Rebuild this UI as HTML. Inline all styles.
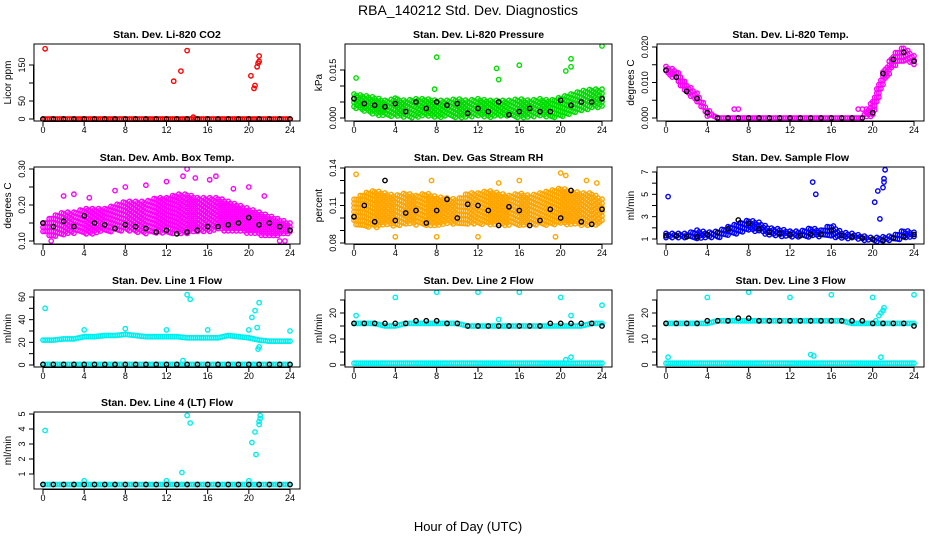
<!DOCTYPE html>
<html><head><meta charset="utf-8">
<style>
html,body{margin:0;padding:0;background:#fff;}
svg{display:block;font-family:"Liberation Sans",Arial,sans-serif;}
</style></head>
<body>
<svg id="chart" width="936" height="540" viewBox="0 0 936 540" xmlns="http://www.w3.org/2000/svg">
<text x="468" y="15" font-size="14" text-anchor="middle">RBA_140212  Std. Dev. Diagnostics</text>
<text x="468" y="531" font-size="13" text-anchor="middle">Hour of Day (UTC)</text>
</svg>
<script>
// ---- data (hourly samples 0..24) ----
const hourTicks = [0,4,8,12,16,20,24];
const hours = [0,1,2,3,4,5,6,7,8,9,10,11,12,13,14,15,16,17,18,19,20,21,22,23,24];

const co2Lo = [0,0,0,0,0,0,0,0,0,0,0,0,0,0,0,0,0,0,0,0,0,0,0,0,0];
const co2Hi = [0,0,0,0,0,0,0,0,0,0,0,0,0,0,0,0,0,0,0,0,0,0,0,0,0];
const co2Black = [0,0,0,0,0,0,0,0,0,0,0,0,0,0,0,0,0,0,0,0,0,0,0,0,0];
const co2OutX = [0.2,12.7,13.4,14.0,14.6,20.2,20.5,20.6,20.8,20.9,21.0,21.0];
const co2OutY = [195,105,133,190,5,120,85,93,145,155,160,175];

const presLo = [0.003,0.002,0.001,0.0005,0.0005,0,0,0.0005,0,0.0005,0,0,0.0005,0,0.0005,0.0005,0,0,0.0005,0,0,0.001,0.002,0.003,0.003];
const presHi = [0.0075,0.007,0.0065,0.0055,0.006,0.0055,0.006,0.006,0.0055,0.0055,0.006,0.0055,0.006,0.0055,0.0055,0.0055,0.006,0.0055,0.006,0.0055,0.0065,0.0075,0.0085,0.009,0.009];
const presBlack = [0.006,0.0045,0.004,0.0035,0.0045,0.002,0.005,0.003,0.005,0.004,0.0045,0.0015,0.003,0.002,0.005,0.001,0.002,0.003,0.002,0.002,0.0055,0.004,0.005,0.005,0.006];
const presOutX = [0.2,8,7.8,13.8,14,16,4,20.5,21,21,24];
const presOutY = [0.0125,0.019,0.009,0.0155,0.012,0.0165,0.0062,0.0147,0.016,0.0185,0.0225];

const tempLo = [0.013,0.0105,0.007,0.0045,0.0005,0,0,0,0,0,0,0,0,0,0,0,0,0,0,0,0.0005,0.009,0.0145,0.016,0.015];
const tempHi = [0.0145,0.0135,0.0095,0.007,0.0025,0,0,0,0,0,0,0,0,0,0,0,0,0,0,0,0.005,0.013,0.018,0.02,0.0175];
const tempBlack = [0.0135,0.0115,0.0075,0.0055,0.0015,0,0,0,0,0,0,0,0,0,0,0,0,0,0,0,0.0015,0.0125,0.0165,0.0185,0.016];
const tempOutX = [6.6,7.0,18.6,19.0,19.4];
const tempOutY = [0.0025,0.0025,0.0025,0.0025,0.0025];

const ambLo = [0.12,0.11,0.115,0.12,0.12,0.12,0.125,0.125,0.13,0.125,0.12,0.12,0.12,0.12,0.12,0.125,0.125,0.13,0.125,0.125,0.12,0.115,0.115,0.115,0.12];
const ambHi = [0.15,0.17,0.18,0.18,0.19,0.19,0.19,0.2,0.21,0.21,0.21,0.22,0.22,0.23,0.23,0.22,0.22,0.22,0.21,0.2,0.19,0.18,0.17,0.16,0.15];
const ambBlack = [0.15,0.14,0.155,0.14,0.17,0.15,0.145,0.135,0.145,0.14,0.135,0.125,0.13,0.12,0.125,0.13,0.14,0.14,0.145,0.15,0.165,0.145,0.15,0.14,0.13];
const ambOutX = [2,3,4.5,7,8,10,12,14,14.8,13.6,16.2,16.8,18.5,20,21.5,23,23.5,0.8];
const ambOutY = [0.225,0.23,0.22,0.24,0.25,0.255,0.265,0.3,0.275,0.28,0.27,0.28,0.245,0.25,0.225,0.1,0.1,0.1];

const rhLo = [0.095,0.093,0.092,0.094,0.093,0.095,0.094,0.093,0.094,0.095,0.094,0.095,0.095,0.094,0.094,0.094,0.093,0.095,0.094,0.094,0.095,0.094,0.094,0.093,0.095];
const rhHi = [0.115,0.12,0.122,0.12,0.118,0.12,0.118,0.12,0.117,0.116,0.115,0.12,0.12,0.122,0.12,0.118,0.12,0.118,0.12,0.122,0.124,0.122,0.12,0.12,0.115];
const rhBlack = [0.101,0.11,0.097,0.13,0.098,0.104,0.106,0.096,0.106,0.115,0.1,0.111,0.11,0.106,0.094,0.109,0.106,0.094,0.098,0.107,0.1,0.122,0.097,0.095,0.107];
const rhOutX = [0.2,4,8,12,7.5,20,20.5,14,16,22.5,23.5,19.5];
const rhOutY = [0.135,0.085,0.085,0.085,0.13,0.136,0.134,0.128,0.13,0.13,0.128,0.085];

const flowLo = [1.1,1.0,1.0,1.0,1.0,1.1,1.3,1.5,1.7,1.6,1.3,1.2,1.2,1.1,1.2,1.2,1.1,1.0,1.0,0.9,0.8,0.7,0.9,1.0,1.1];
const flowHi = [1.5,1.5,1.5,1.8,1.6,1.7,2.1,2.4,2.7,2.5,2.0,1.9,1.7,1.7,2.0,1.8,2.3,1.6,1.5,1.3,1.1,1.2,1.3,1.8,1.6];
const flowBlack = [1.3,1.3,1.2,1.2,1.4,1.6,1.9,2.7,2.4,1.9,1.6,1.5,1.4,1.3,1.4,1.4,1.8,1.3,1.2,1.1,1.0,0.9,1.1,1.2,1.4];
const flowOutX = [0.2,14.2,14.5,20.2,20.5,20.7,21,21.1,21.1,21.2];
const flowOutY = [4.8,6.1,5,4.3,5.3,2.8,5.6,6.1,6.4,7.2];

const l1Main = [22,22,23,23,25,25,26,26,27,26,25,25,25,25,24,24,24,24,26,25,24,22,21,21,21];
const l1Low = [0.5,0.5,0.5,0.5,0.5,0.5,0.5,0.5,0.5,0.5,0.5,0.5,0.5,0.5,0.5,0.5,0.5,0.5,0.5,0.5,0.5,0.5,0.5,0.5,0.5];
const l1Black = [0.5,0.5,0.5,0.5,0.5,0.5,0.5,0.5,0.5,0.5,0.5,0.5,0.5,0.5,0.5,0.5,0.5,0.5,0.5,0.5,0.5,0.5,0.5,0.5,0.5];
const l1OutX = [0.2,4,8,12,14,14.3,16,20,20.3,20.6,20.8,20.9,21,21,24,13.6];
const l1OutY = [50,31,32,31,62,58,31,31,42,48,33,14,16,55,30,4];

const l2Main = [16,16,16,15,15,16,16,16,16,16,16,15,15,15,15,15,15,15,15,15,15,15,15,16,16];
const l2Low = [0.7,0.7,0.7,0.7,0.7,0.7,0.7,0.7,0.7,0.7,0.7,0.7,0.7,0.7,0.7,0.7,0.7,0.7,0.7,0.7,0.7,0.7,0.7,0.7,0.7];
const l2Black = [16,16,16,16,16,16,17,17,17,16,16,15,15,15,15,15,15,15,15,16,16,16,16,16,15];
const l2OutX = [0.2,4,8,12,16,20,24,14,21,20.5,21];
const l2OutY = [19,26,28,28,28,26,23,17.5,19,2,3];

const l3Main = [16,16,16,16,16,17,17,17,17,17,17,17,17,17,17,17,17,17,16,16,16,16,16,16,16];
const l3Low = [0.7,0.7,0.7,0.7,0.7,0.7,0.7,0.7,0.7,0.7,0.7,0.7,0.7,0.7,0.7,0.7,0.7,0.7,0.7,0.7,0.7,0.7,0.7,0.7,0.7];
const l3Black = [16,16,16,16,17,17,17,18,18,17,17,17,17,17,17,17,17,17,17,17,16,16,16,16,15];
const l3OutX = [0.2,4,8,12,16,20,24,14,14.3,20.3,20.6,20.8,21,21.1,20.8];
const l3OutY = [3,26,28,26,27,26,27,4,3.5,17,19,20,21,22,3];

const l4Main = [0.3,0.3,0.3,0.3,0.3,0.3,0.3,0.3,0.3,0.3,0.3,0.3,0.3,0.3,0.3,0.3,0.3,0.3,0.3,0.3,0.3,0.3,0.3,0.3,0.3];
const l4Black = [0.3,0.3,0.3,0.3,0.3,0.3,0.3,0.3,0.3,0.3,0.3,0.3,0.3,0.3,0.3,0.3,0.3,0.3,0.3,0.3,0.3,0.3,0.3,0.3,0.3];
const l4OutX = [0.2,4,12,13.5,14,14.3,20,20.3,20.6,20.7,21,21,21.1,21.1];
const l4OutY = [3.9,0.55,0.55,1.1,4.9,4.4,0.55,3.1,3.8,2.3,4.3,4.5,4.7,4.9];

// ---- rendering ----
const NS = "http://www.w3.org/2000/svg";
const svg = document.getElementById('chart');
function mk(tag, attrs, parent){
  const e = document.createElementNS(NS, tag);
  for (const k in attrs) e.setAttribute(k, attrs[k]);
  (parent||svg).appendChild(e);
  return e;
}
const cols = [[34,300],[345,612],[657,924]];
const rows = [[44,121],[167,244],[290,367],[412,489]];

function lerpArr(arr, h){
  const i = Math.min(23, Math.floor(h));
  const f = h - i;
  return arr[i] + (arr[i+1] - arr[i]) * f;
}

function panel(cfg){
  const [L,R] = cols[cfg.col], [T,B] = rows[cfg.row];
  const g = mk('g', {});
  
  
  const x0 = L + 9, x24 = R - 10;
  const xs = h => x0 + h * (x24 - x0) / 24;
  const [v1,p1,v2,p2] = cfg.ymap;
  const ys = v => p1 + (v - v1) * (p2 - p1) / (v2 - v1);
  const clip = 'clip-' + cfg.name;
  const cp = mk('clipPath', {id: clip}, g);
  mk('rect', {x: L, y: T, width: R - L, height: B - T}, cp);
  const pts = mk('g', {'clip-path': 'url(#' + clip + ')'}, g);
  function circ(x, y, col){
    const c = mk('circle', {cx: x.toFixed(1), cy: y.toFixed(1), r: 2.2, fill: 'none', stroke: col, 'stroke-width': 1.4}, pts);
    
    
  }
  // bands (rendered as textured point clouds between lo and hi)
  (cfg.bands||[]).forEach(b => {
    let col = 0;
    for (let hh = 0; hh <= 24.001; hh += 0.2, col++) {
      const yLo = ys(lerpArr(b.lo, hh)), yHi = ys(lerpArr(b.hi, hh));
      const top = Math.min(yLo, yHi), bot = Math.max(yLo, yHi);
      const span = bot - top;
      if (span < 3) { circ(xs(hh), (top + bot) / 2, b.color); continue; }
      const step = 4.2;
      const off = (col % 3) * 1.4;
      for (let y = top + off; y <= bot; y += step) circ(xs(hh), y, b.color);
    }
  });
  // outliers
  cfg.outX.forEach((x, i) => circ(xs(x), ys(cfg.outY[i]), cfg.color));
  // black series
  hours.forEach((h, i) => circ(xs(h), ys(cfg.black[i]), '#000'));
  // box
  const bx = mk('rect', {x: L, y: T, width: R - L, height: B - T, fill: 'none', stroke: '#000', 'stroke-width': 1}, g);
  
  
  // x axis
  mk('line', {x1: xs(0), x2: xs(24), y1: B + 0.5, y2: B + 0.5, stroke: '#000'}, g);
  hourTicks.forEach(t => {
    mk('line', {x1: xs(t), x2: xs(t), y1: B, y2: B + 5, stroke: '#000'}, g);
    const tx = mk('text', {x: xs(t), y: B + 12, 'font-size': 9, 'text-anchor': 'middle'}, g);
    tx.textContent = t;
    
    
  });
  // y axis
  const yt = cfg.yticks;
  mk('line', {x1: L - 0.5, x2: L - 0.5, y1: ys(yt[0]), y2: ys(yt[yt.length - 1]), stroke: '#000'}, g);
  yt.forEach(t => mk('line', {x1: L - 5, x2: L, y1: ys(t), y2: ys(t), stroke: '#000'}, g));
  cfg.ylabels.forEach((lab, i) => {
    const y = ys(cfg.ylabelVals[i]);
    const tx = mk('text', {x: L - 9, y: y, 'font-size': 9, 'text-anchor': 'middle', transform: 'rotate(-90 ' + (L - 9) + ' ' + y + ')'}, g);
    tx.textContent = lab;
    
    
  });
  const cy = (T + B) / 2;
  const yl = mk('text', {x: L - 23, y: cy, 'font-size': 10, 'text-anchor': 'middle', transform: 'rotate(-90 ' + (L - 23) + ' ' + cy + ')'}, g);
  yl.textContent = cfg.ylab;
  
  
  const ti = mk('text', {x: (L + R) / 2, y: T - 6, 'font-size': 10.5, 'font-weight': 'bold', 'text-anchor': 'middle'}, g);
  ti.textContent = cfg.title;
  
  
}

panel({name:'co2', col:0, row:0, title:'Stan. Dev. Li-820 CO2', ylab:'Licor ppm', ymap:[0,119,150,65],
  yticks:[0,50,100,150], ylabels:['0','50','150'], ylabelVals:[0,50,150], color:'#ff0000',
  bands:[{lo:co2Lo, hi:co2Hi, color:'#ff0000'}], black:co2Black, outX:co2OutX, outY:co2OutY});
panel({name:'pressure', col:1, row:0, title:'Stan. Dev. Li-820 Pressure', ylab:'kPa', ymap:[0,118,0.015,70],
  yticks:[0,0.005,0.01,0.015], ylabels:['0.000','0.015'], ylabelVals:[0,0.015], color:'#00dd00',
  bands:[{lo:presLo, hi:presHi, color:'#00dd00'}], black:presBlack, outX:presOutX, outY:presOutY});
panel({name:'temp', col:2, row:0, title:'Stan. Dev. Li-820 Temp.', ylab:'degrees C', ymap:[0,118,0.02,47],
  yticks:[0,0.005,0.01,0.015,0.02], ylabels:['0.000','0.010','0.020'], ylabelVals:[0,0.01,0.02], color:'#ff00ff',
  bands:[{lo:tempLo, hi:tempHi, color:'#ff00ff'}], black:tempBlack, outX:tempOutX, outY:tempOutY});
panel({name:'ambbox', col:0, row:1, title:'Stan. Dev. Amb. Box Temp.', ylab:'degrees C', ymap:[0.1,241,0.3,169],
  yticks:[0.1,0.15,0.2,0.25,0.3], ylabels:['0.10','0.20','0.30'], ylabelVals:[0.1,0.2,0.3], color:'#ff00ff',
  bands:[{lo:ambLo, hi:ambHi, color:'#ff00ff'}], black:ambBlack, outX:ambOutX, outY:ambOutY});
panel({name:'rh', col:1, row:1, title:'Stan. Dev. Gas Stream RH', ylab:'percent', ymap:[0.08,243,0.14,168],
  yticks:[0.08,0.09,0.1,0.11,0.12,0.13,0.14], ylabels:['0.08','0.11','0.14'], ylabelVals:[0.08,0.11,0.14], color:'#ffa500',
  bands:[{lo:rhLo, hi:rhHi, color:'#ffa500'}], black:rhBlack, outX:rhOutX, outY:rhOutY});
panel({name:'sampleflow', col:2, row:1, title:'Stan. Dev. Sample Flow', ylab:'ml/min', ymap:[1,239,7,172],
  yticks:[1,2,3,4,5,6,7], ylabels:['1','3','5','7'], ylabelVals:[1,3,5,7], color:'#0000ff',
  bands:[{lo:flowLo, hi:flowHi, color:'#0000ff'}], black:flowBlack, outX:flowOutX, outY:flowOutY});
panel({name:'line1', col:0, row:2, title:'Stan. Dev. Line 1 Flow', ylab:'ml/min', ymap:[0,365,60,297],
  yticks:[0,10,20,30,40,50,60], ylabels:['0','20','40','60'], ylabelVals:[0,20,40,60], color:'#00eeee',
  bands:[{lo:l1Main, hi:l1Main, color:'#00eeee'},{lo:l1Low, hi:l1Low, color:'#00eeee'}], black:l1Black, outX:l1OutX, outY:l1OutY});
panel({name:'line2', col:1, row:2, title:'Stan. Dev. Line 2 Flow', ylab:'ml/min', ymap:[0,365,20,313],
  yticks:[0,5,10,15,20,25], ylabels:['0','10','20'], ylabelVals:[0,10,20], color:'#00eeee',
  bands:[{lo:l2Main, hi:l2Main, color:'#00eeee'},{lo:l2Low, hi:l2Low, color:'#00eeee'}], black:l2Black, outX:l2OutX, outY:l2OutY});
panel({name:'line3', col:2, row:2, title:'Stan. Dev. Line 3 Flow', ylab:'ml/min', ymap:[0,365,20,313],
  yticks:[0,5,10,15,20,25], ylabels:['0','10','20'], ylabelVals:[0,10,20], color:'#00eeee',
  bands:[{lo:l3Main, hi:l3Main, color:'#00eeee'},{lo:l3Low, hi:l3Low, color:'#00eeee'}], black:l3Black, outX:l3OutX, outY:l3OutY});
panel({name:'line4', col:0, row:3, title:'Stan. Dev. Line 4 (LT) Flow', ylab:'ml/min', ymap:[1,474,5,414],
  yticks:[1,2,3,4,5], ylabels:['1','2','3','4','5'], ylabelVals:[1,2,3,4,5], color:'#00eeee',
  bands:[{lo:l4Main, hi:l4Main, color:'#00eeee'}], black:l4Black, outX:l4OutX, outY:l4OutY});
</script>
</body></html>
